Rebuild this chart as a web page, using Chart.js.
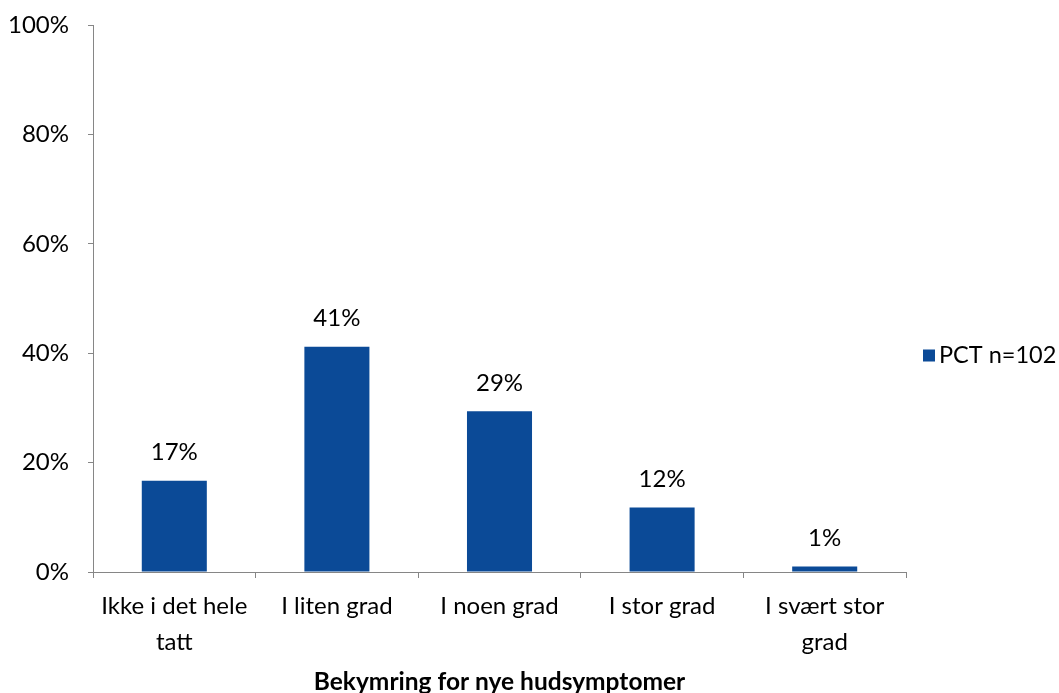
<!DOCTYPE html>
<html>
<head>
<meta charset="utf-8">
<script src="https://cdn.jsdelivr.net/npm/chart.js@4/dist/chart.umd.min.js"></script>
<style>
  html, body { margin: 0; padding: 0; background: #fff; }
  #wrap { width: 1059px; height: 693px; }
</style>
</head>
<body>
<div id="wrap"><canvas id="bar_chart" width="1059" height="693"></canvas></div>
<script>
var categories = [["Ikke i det hele", "tatt"], "I liten grad", "I noen grad", "I stor grad", ["I svært stor", "grad"]];
var seriesName = "PCT n=102";
var pctValues = [16.7, 41.2, 29.4, 11.8, 1.0];
var yTicks = [0, 20, 40, 60, 80, 100];
var xTitle = "Bekymring for nye hudsymptomer";

var FONT = "Lato";
var AXIS = "#868686";
var BAR = "#0B4A97";

// value labels above each bar
var valueLabels = {
    id: 'valueLabels',
    afterDatasetsDraw: function (chart) {
        var ctx = chart.ctx;
        var meta = chart.getDatasetMeta(0);
        ctx.save();
        ctx.font = "24px " + FONT;
        ctx.fillStyle = "#000";
        ctx.textAlign = "center";
        ctx.textBaseline = "middle";
        meta.data.forEach(function (bar, i) {
            ctx.fillText(Math.round(pctValues[i]) + "%", bar.x, bar.y - 28);
        });
        ctx.restore();
    }
};

// legend drawn to the right of the plot, like the Excel one
var sideLegend = {
    id: 'sideLegend',
    afterDraw: function (chart) {
        var ctx = chart.ctx;
        var area = chart.chartArea;
        var ds = chart.data.datasets[0];
        var x = area.right + 17;
        var y = (area.top + area.bottom) / 2 + 57;
        ctx.save();
        ctx.fillStyle = ds.backgroundColor;
        ctx.fillRect(x, y - 6, 12, 12);
        ctx.font = "23.5px " + FONT;
        ctx.fillStyle = "#000";
        ctx.textAlign = "left";
        ctx.textBaseline = "middle";
        ctx.fillText(ds.label, x + 16, y);
        ctx.restore();
    }
};

new Chart(document.getElementById("bar_chart").getContext("2d"), {
    type: 'bar',
    data: {
        labels: categories,
        datasets: [{
            label: seriesName,
            data: pctValues,
            backgroundColor: BAR,
            categoryPercentage: 1.0,
            barPercentage: 0.4
        }]
    },
    options: {
        responsive: false,
        animation: false,
        layout: { padding: { top: 25, right: 153, bottom: 0, left: 0 } },
        plugins: {
            legend: { display: false },
            tooltip: { enabled: false }
        },
        scales: {
            x: {
                grid: { display: true, offset: true, drawOnChartArea: false, drawTicks: true, tickLength: 6, color: AXIS },
                border: { display: true, color: AXIS, width: 1 },
                ticks: { color: "#000", font: { family: FONT, size: 24, lineHeight: 1.5 }, padding: 10, maxRotation: 0, autoSkip: false },
                title: { display: true, text: xTitle, color: "#000", font: { family: FONT, size: 24.5, weight: 'bold' }, padding: { top: 0, bottom: -4 } },
                afterFit: function (scale) { scale.height = 121; }
            },
            y: {
                min: 0,
                max: 100,
                afterBuildTicks: function (scale) {
                    scale.ticks = yTicks.map(function (v) { return { value: v }; });
                },
                grid: { display: true, drawOnChartArea: false, drawTicks: true, tickLength: 5, color: AXIS },
                border: { display: true, color: AXIS, width: 1 },
                ticks: {
                    color: "#000",
                    font: { family: FONT, size: 24 },
                    padding: 19,
                    callback: function (v) { return v + "%"; }
                },
                afterFit: function (scale) {
                    scale.width = 93;
                    scale.paddingTop = 0;
                    scale.paddingBottom = 0;
                }
            }
        }
    },
    plugins: [valueLabels, sideLegend]
});
</script>
</body>
</html>
